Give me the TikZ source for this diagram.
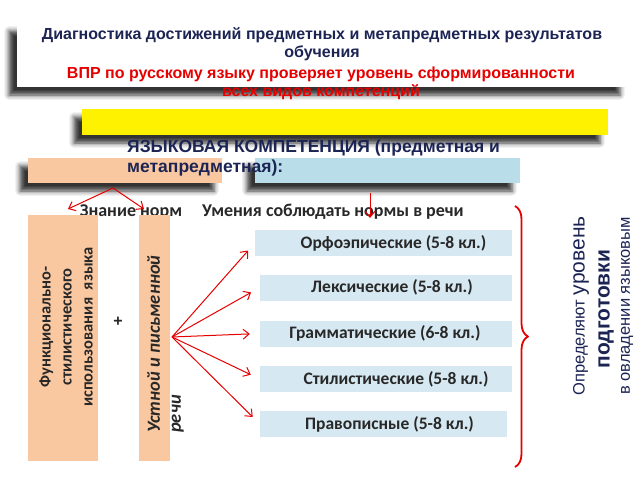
\documentclass[tikz,border=0pt]{standalone}
\usepackage{fontspec}
\setmainfont{Liberation Sans}
\newfontfamily\calib{Carlito}
\usetikzlibrary{arrows.meta,shadows.blur,decorations.pathreplacing}
\definecolor{navy}{RGB}{28,36,84}
\definecolor{peach}{RGB}{250,200,160}
\definecolor{paleblue}{RGB}{214,232,241}
\definecolor{skyblue}{RGB}{185,222,233}
\definecolor{vprred}{RGB}{230,0,0}
\definecolor{ink}{RGB}{40,40,40}

\begin{document}
\begin{tikzpicture}[x=1pt,y=-1pt,join=round,
  dropshade/.style={blur shadow={shadow xshift=-8pt,shadow yshift=-8pt,shadow blur radius=5pt,shadow opacity=80}},
  listbox/.style={fill=paleblue,minimum height=26pt,inner sep=0pt},
  normtext/.style={text=ink,font=\calib\bfseries\fontsize{17.5}{20}\selectfont},
  redarrow/.style={draw=vprred,line width=1pt,-{Straight Barb[length=6pt,width=10pt]}}]
  \useasboundingbox (0,0) rectangle (640,480);
  % header
  \node[dropshade,fill=white,minimum width=611pt,minimum height=64pt,inner sep=0pt] (banner) at (322.5,55) {};
  \node[text=navy,align=center,font=\bfseries\fontsize{16}{18}\selectfont] (title) at (322,44)
       {Диагностика достижений предметных и метапредметных результатов\\обучения};
  \node[text=vprred,align=center,font=\bfseries\fontsize{16}{18}\selectfont] (vpr) at (321,83)
       {ВПР по русскому языку проверяет уровень сформированности\\всех видов компетенций};
  % language competence
  \node[dropshade,fill=yellow,minimum width=526pt,minimum height=26pt,inner sep=0pt] (yellowbar) at (345,122) {};
  \node[dropshade,fill=peach,minimum width=194pt,minimum height=25pt,inner sep=0pt] (knowbar) at (125,170.5) {};
  \node[dropshade,fill=skyblue,minimum width=265pt,minimum height=25pt,inner sep=0pt] (skillbar) at (387.5,170.5) {};
  \node[text=navy,align=left,anchor=north west,inner sep=0pt,font=\bfseries\fontsize{17.5}{20}\selectfont] (lang) at (127,140)
       {ЯЗЫКОВАЯ КОМПЕТЕНЦИЯ (предметная и\\метапредметная):};
  \node[text=ink,font=\calib\bfseries\fontsize{18}{20}\selectfont] (know) at (131,212) {Знание норм};
  \node[text=ink,font=\calib\bfseries\fontsize{18}{20}\selectfont] (skill) at (333,212) {Умения соблюдать нормы в речи};
  \coordinate (fork) at (113,188);
  \coordinate (forkl) at (68,209);
  \coordinate (forkr) at (144,209);
  \coordinate (drop) at (370,193);
  \coordinate (dropend) at (370,218);
  \draw[redarrow] (fork) -- (forkl);
  \draw[redarrow] (fork) -- (forkr);
  \draw[redarrow] (drop) -- (dropend);
  % tall boxes
  \node[fill=peach,minimum width=70pt,minimum height=246pt,inner sep=0pt] (funcbox) at (63,338) {};
  \node[fill=peach,minimum width=31pt,minimum height=246pt,inner sep=0pt] (speechbox) at (154.5,338) {};
  \node[rotate=90,align=center,text=ink,font=\calib\bfseries\fontsize{16.5}{21}\selectfont] (functext) at (66,327)
       {Функционально-\\стилистического\\использования~ языка};
  \node[rotate=90,align=left,anchor=north west,inner sep=0pt,text=ink,font=\calib\bfseries\itshape\fontsize{18.5}{21}\selectfont] (speechtext) at (147,433)
       {Устной и письменной\\речи};
  \node[text=ink,font=\bfseries\fontsize{16}{18}\selectfont] (plus) at (118,322) {+};
  % list of norms
  \node[listbox,minimum width=257pt] (orfo) at (383.5,243) {};
  \node[listbox,minimum width=252pt] (lex) at (386,287.5) {};
  \node[listbox,minimum width=252pt] (gram) at (386,333.5) {};
  \node[listbox,minimum width=252pt] (stil) at (386,379) {};
  \node[listbox,minimum width=247pt] (prav) at (383.5,424) {};
  \node[normtext] (orfotext) at ([xshift=10pt]orfo.center) {Орфоэпические (5-8 кл.)};
  \node[normtext] (lextext) at ([xshift=6pt]lex.center) {Лексические (5-8 кл.)};
  \node[normtext] (gramtext) at ([xshift=-1pt]gram.center) {Грамматические (6-8 кл.)};
  \node[normtext] (stiltext) at ([xshift=10pt]stil.center) {Стилистические (5-8 кл.)};
  \node[normtext] (pravtext) at ([xshift=6pt]prav.center) {Правописные (5-8 кл.)};
  \coordinate (src) at (172,337);
  \draw[redarrow,shorten >=10pt] (src) -- (orfo.west);
  \draw[redarrow,shorten >=10pt] (src) -- (lex.west);
  \draw[redarrow,shorten >=10pt] (src) -- (gram.west);
  \draw[redarrow,shorten >=10pt] (src) -- (stil.west);
  \draw[redarrow,shorten >=10pt] (src) -- (prav.west);
  % brace and result
  \coordinate (bracetop) at (515,206);
  \coordinate (bracebot) at (515,467);
  \draw[vprred,line width=1.8pt,decorate,decoration={brace,amplitude=13pt}] (bracetop) -- (bracebot);
  \node[rotate=90,text=navy,inner sep=0pt] (level) at (581,306)
       {{\fontsize{16.5}{20}\selectfont Определяют }{\fontsize{21}{24}\selectfont уровень}};
  \node[rotate=90,text=navy,inner sep=0pt,font=\bfseries\fontsize{21}{24}\selectfont] (prep) at (606,309) {подготовки};
  \node[rotate=90,text=navy,inner sep=0pt,font=\fontsize{16.5}{20}\selectfont] (mastery) at (627,306) {в овладении языковым};
\end{tikzpicture}
\end{document}
